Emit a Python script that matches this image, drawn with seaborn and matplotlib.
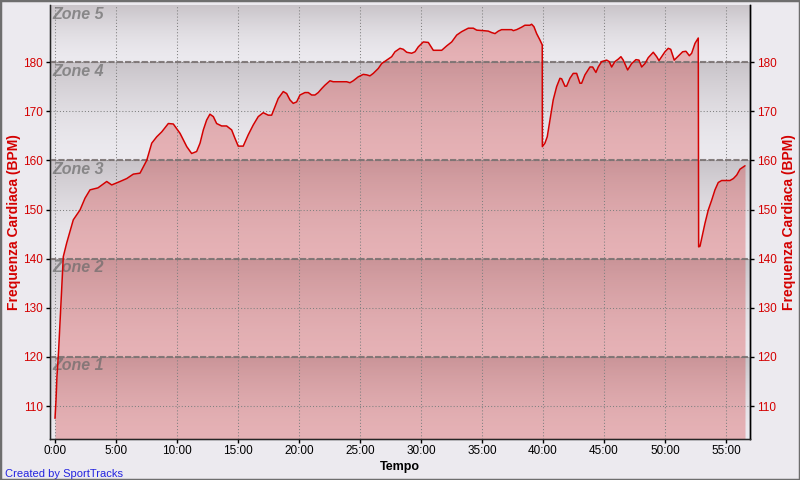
import matplotlib
matplotlib.use("Agg")
import matplotlib.pyplot as plt
from matplotlib.colors import LinearSegmentedColormap
from matplotlib.patches import Rectangle
import numpy as np
import seaborn as sns

# heart rate track (minutes, bpm)
minutes = [0.00, 0.08, 0.16, 0.29, 0.41, 0.49, 0.55, 0.68, 0.96, 1.50, 2.05, 2.46,
           2.87, 3.52, 4.24, 4.65, 5.33, 5.88, 6.42, 6.97, 7.52, 7.93, 8.34, 8.75,
           9.29, 9.70, 10.25, 10.80, 11.20, 11.61, 11.89, 12.16, 12.43, 12.70, 12.98,
           13.25, 13.66, 14.07, 14.48, 14.75, 15.02, 15.43, 15.84, 16.25, 16.66, 17.07,
           17.48, 17.76, 18.03, 18.30, 18.71, 18.99, 19.26, 19.53, 19.81, 20.08, 20.49,
           20.76, 21.04, 21.31, 21.58, 21.86, 22.13, 22.54, 22.81, 23.91, 24.18, 24.45,
           24.86, 25.27, 25.55, 25.82, 26.09, 26.50, 26.78, 27.19, 27.60, 27.87, 28.28,
           28.55, 28.83, 29.24, 29.51, 29.78, 30.19, 30.60, 31.01, 31.70, 32.11, 32.52,
           32.93, 33.34, 33.88, 34.29, 34.57, 35.11, 35.52, 35.80, 36.07, 36.34, 36.61,
           37.43, 37.57, 37.84, 38.25, 38.52, 38.93, 39.07, 39.26, 39.48, 39.75, 39.94,
           39.95, 40.16, 40.35, 40.57, 40.84, 41.12, 41.39, 41.53, 41.80, 41.94, 42.21,
           42.48, 42.76, 43.03, 43.17, 43.44, 43.85, 44.07, 44.34, 44.53, 44.81, 45.22,
           45.43, 45.63, 45.90, 46.17, 46.39, 46.58, 46.94, 47.27, 47.62, 47.87, 48.09,
           48.36, 48.63, 49.04, 49.32, 49.51, 49.73, 50.00, 50.27, 50.47, 50.76, 51.09,
           51.45, 51.72, 52.00, 52.19, 52.46, 52.73, 52.76, 52.87, 53.01, 53.28, 53.55,
           53.83, 54.10, 54.37, 54.65, 55.33, 55.61, 55.88, 56.15, 56.56]
bpm = [107.5, 111.0, 116.0, 121.0, 127.0, 131.0, 134.3, 140.4, 143.2, 147.9, 149.9, 152.3,
       154.0, 154.4, 155.7, 155.0, 155.7, 156.3, 157.2, 157.4, 160.0, 163.5, 164.8, 165.8,
       167.5, 167.4, 165.5, 162.8, 161.4, 161.8, 163.5, 166.2, 168.2, 169.4, 168.9,
       167.5, 167.0, 167.0, 166.2, 164.5, 162.9, 162.9, 165.2, 167.2, 168.9, 169.7,
       169.2, 169.2, 170.9, 172.6, 174.0, 173.6, 172.3, 171.6, 171.9, 173.3, 173.8,
       173.8, 173.3, 173.3, 173.8, 174.6, 175.3, 176.2, 176.0, 176.0, 175.8, 176.2,
       177.0, 177.5, 177.4, 177.2, 177.7, 178.7, 179.7, 180.4, 181.1, 182.1, 182.8,
       182.6, 182.0, 181.8, 182.1, 183.1, 184.1, 184.0, 182.4, 182.4, 183.3, 184.1,
       185.5, 186.2, 186.9, 186.9, 186.5, 186.4, 186.3, 186.0, 185.8, 186.3, 186.6,
       186.6, 186.4, 186.6, 187.1, 187.5, 187.5, 187.7, 187.2, 185.8, 184.5, 183.5,
       162.8, 163.5, 164.8, 168.2, 172.3, 175.0, 176.7, 176.6, 175.1, 175.1, 176.7,
       177.7, 177.7, 175.7, 175.7, 177.4, 179.0, 179.0, 177.9, 179.0, 180.1, 180.4,
       180.1, 179.0, 180.1, 180.6, 181.1, 180.4, 178.4, 179.7, 180.5, 180.4, 179.0,
       179.7, 180.9, 182.0, 181.1, 180.3, 181.1, 182.1, 182.8, 182.6, 180.4, 181.2,
       182.1, 182.2, 181.3, 181.8, 183.8, 184.9, 142.4, 142.5, 144.1, 147.2, 149.9,
       151.9, 154.0, 155.5, 155.9, 155.9, 156.3, 157.0, 158.2, 158.9]

zone_names = ["Zone 1", "Zone 2", "Zone 3", "Zone 4", "Zone 5"]
zone_bounds = [103.3, 120, 140, 160, 180, 191.6]
x_ticks = [0, 5, 10, 15, 20, 25, 30, 35, 40, 45, 50, 55]
x_tick_labels = ["0:00", "5:00", "10:00", "15:00", "20:00", "25:00", "30:00",
                 "35:00", "40:00", "45:00", "50:00", "55:00"]
y_ticks = [110, 120, 130, 140, 150, 160, 170, 180]

sns.set_style("white")
plt.rcParams["font.family"] = ["Liberation Sans", "DejaVu Sans"]

bg = "#ECEAEF"
red = "#D40000"
xlim = (-0.41, 56.97)
ylim = (zone_bounds[0], zone_bounds[-1])

fig = plt.figure(figsize=(8, 4.8), dpi=100, facecolor=bg)
ax = fig.add_axes([0.0625, 0.0854, 0.875, 0.904])
ax.set_facecolor(bg)

# zone backgrounds: grey at the top of each zone fading to the background
grad_cmap = LinearSegmentedColormap.from_list("zone", [bg, "#C8C3C8"])
g = np.linspace(0, 1, 256).reshape(-1, 1) ** 1.6
for lo, hi in zip(zone_bounds[:-1], zone_bounds[1:]):
    ax.imshow(g, extent=[xlim[0], xlim[1], lo, hi], origin="lower", cmap=grad_cmap,
              vmin=0, vmax=1, aspect="auto", zorder=0, interpolation="bilinear")

ax.fill_between(minutes, ylim[0], bpm, color="#D20000", alpha=0.24, lw=0, zorder=1)
sns.lineplot(x=minutes, y=bpm, ax=ax, color=red, lw=1.1, estimator=None, sort=False, zorder=4)

for b in zone_bounds[1:-1]:
    ax.axhline(b, color="#7A7272", lw=1.5, ls=(0, (3, 1)), alpha=0.9, zorder=3)
for name, hi in zip(zone_names, zone_bounds[1:]):
    ax.text(-0.2, hi - 0.3, name, ha="left", va="top", fontsize=11.5, fontweight="bold",
            fontstyle="italic", color="#6A6A6A", alpha=0.7, zorder=3)

ax.set_xlim(*xlim)
ax.set_ylim(*ylim)
ax.set_xticks(x_ticks)
ax.set_xticklabels(x_tick_labels)
ax.set_yticks(y_ticks)
ax.set_axisbelow(False)
ax.grid(True, color="#808080", lw=0.75, ls=(0, (1, 2)))

ax.tick_params(axis="both", direction="out", length=3, width=1, color="black", labelsize=8.5)
ax.tick_params(axis="x", pad=1.5, labelcolor="black")
ax.tick_params(axis="y", pad=2, labelcolor=red, left=True)
ax.tick_params(axis="x", bottom=True)

for side in ["left", "bottom", "right"]:
    ax.spines[side].set_visible(True)
    ax.spines[side].set_color("black")
    ax.spines[side].set_linewidth(1.0)
ax.spines["top"].set_visible(False)

ax.set_xlabel("Tempo", fontsize=9, fontweight="bold", color="black")
ax.xaxis.set_label_coords(0.5, -0.05)
ax.set_ylabel("Frequenza Cardiaca (BPM)", fontsize=10, fontweight="bold", color=red)
ax.yaxis.set_label_coords(-0.041, 0.5)

ax2 = ax.twinx()
ax2.set_ylim(*ylim)
ax2.set_yticks(y_ticks)
ax2.tick_params(axis="y", direction="out", length=3, width=1, color="black",
                labelsize=8.5, labelcolor=red, pad=2, right=True)
ax2.spines["top"].set_visible(False)
ax2.spines["right"].set_color("black")
ax2.spines["right"].set_linewidth(1.0)
ax2.set_ylabel("Frequenza Cardiaca (BPM)", fontsize=10, fontweight="bold", color=red,
               rotation=90)
ax2.yaxis.set_label_coords(1.046, 0.5)

fig.text(0.006, 1 - 477 / 480, "Created by SportTracks", fontsize=8, color="#2424E0",
         ha="left", va="baseline")
fig.patches.append(Rectangle((0, 0), 1, 1, transform=fig.transFigure, fill=False,
                             edgecolor="#6E6E6E", lw=2.5))

fig.savefig("out.png", dpi=100, facecolor=bg)
